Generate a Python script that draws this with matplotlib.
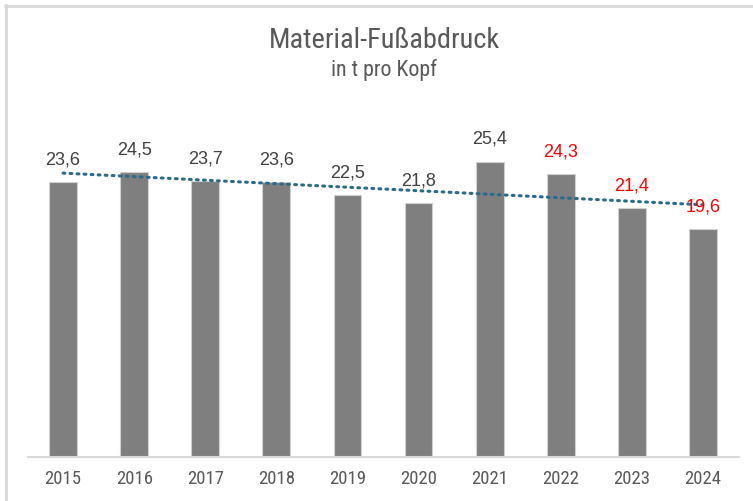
import numpy as np
import matplotlib
matplotlib.use("Agg")
import matplotlib.pyplot as plt

years = ["2015", "2016", "2017", "2018", "2019", "2020", "2021", "2022", "2023", "2024"]
values = [23.6, 24.5, 23.7, 23.6, 22.5, 21.8, 25.4, 24.3, 21.4, 19.6]
labels = ["23,6", "24,5", "23,7", "23,6", "22,5", "21,8", "25,4", "24,3", "21,4", "19,6"]
highlight = [False, False, False, False, False, False, False, True, True, True]
title = "Material-Fußabdruck"
subtitle = "in t pro Kopf"

W, H = 753, 501
fig = plt.figure(figsize=(W / 100, H / 100), dpi=100)
fig.patch.set_facecolor("white")

narrow = ["Liberation Sans Narrow", "Roboto Condensed", "Liberation Sans", "DejaVu Sans"]
regular = ["Liberation Sans", "Arial", "DejaVu Sans"]

# chart border (only top/left visible)
fig.add_artist(plt.Line2D([6 / W, 6 / W], [0, 1 - 5 / H], color="#D9D9D9", lw=2, transform=fig.transFigure))
fig.add_artist(plt.Line2D([5 / W, 1], [1 - 6 / H, 1 - 6 / H], color="#D9D9D9", lw=2, transform=fig.transFigure))

left, right = 27.5 / W, 738.5 / W
bottom = (H - 457) / H
top = (H - 108) / H
ax = fig.add_axes([left, bottom, right - left, top - bottom])
ax.set_xlim(-0.5, len(years) - 0.5)
ax.set_ylim(0, 30)

x = np.arange(len(years))
ax.bar(x, values, width=0.39, color="#7F7F7F", edgecolor="#D0D0D0", linewidth=0.8, zorder=2)

# linear trend line
coef = np.polyfit(x, values, 1)
ax.plot(x, np.polyval(coef, x), linestyle=(0, (0.6, 1.7)), color="#2A6A8C", lw=2.2,
        dash_capstyle="round", zorder=3)

for xi, v, lab, hl in zip(x, values, labels, highlight):
    ax.annotate(lab, (xi, v), xytext=(0, 10), textcoords="offset points",
                ha="center", va="bottom", fontsize=13, family=regular,
                color="#FF0000" if hl else "#404040", zorder=4)

for s in ["top", "right", "left"]:
    ax.spines[s].set_visible(False)
ax.spines["bottom"].set_color("#D9D9D9")
ax.spines["bottom"].set_linewidth(1.5)
ax.set_yticks([])
ax.set_xticks(x)
ax.set_xticklabels(years, family=narrow, fontsize=13.5, color="#595959")
ax.tick_params(axis="x", length=0, pad=9)
ax.set_facecolor("none")

fig.text(384 / W, 1 - 40 / H, title, ha="center", va="center", fontsize=20.4,
         family=narrow, color="#595959")
fig.text(384 / W, 1 - 70 / H, subtitle, ha="center", va="center", fontsize=15.8,
         family=narrow, color="#595959")

fig.savefig("out.png", dpi=100, facecolor="white")
